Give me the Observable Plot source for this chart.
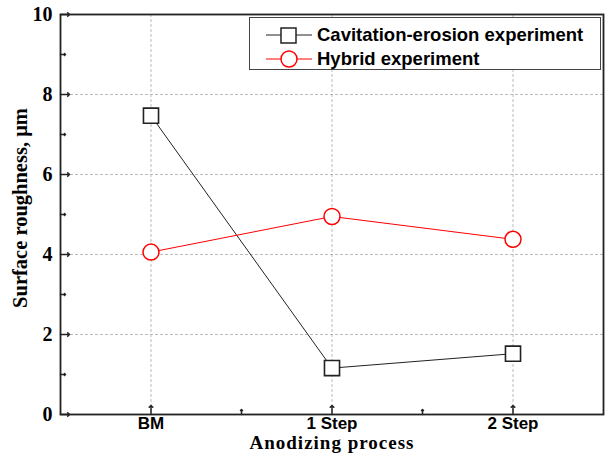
<!DOCTYPE html>
<html><head><meta charset="utf-8">
<script src="https://cdn.jsdelivr.net/npm/d3@7"></script>
<script src="https://cdn.jsdelivr.net/npm/@observablehq/plot@0.6"></script>
<style>
body{margin:0;background:#fff;}
#wrap{position:relative;width:605px;height:462px;}
#legend{position:absolute;left:249px;top:17px;width:350px;height:51px;border:1.5px solid #444;background:#fff;font-family:"Liberation Sans",Arial,sans-serif;font-weight:bold;font-size:18.5px;color:#000;}
.row{position:absolute;left:16px;height:20px;display:flex;align-items:center;}
.row svg{margin-right:5px;}
</style></head>
<body><div id="wrap"><div id="chart"></div>
<div id="legend">
<div class="row" style="top:7px"><svg width="46" height="20"><line x1="0" y1="10" x2="46" y2="10" stroke="#222" stroke-width="1"/><rect x="15" y="3" width="15" height="15" fill="#fff" stroke="#222" stroke-width="1.5"/></svg><span>Cavitation-erosion experiment</span></div>
<div class="row" style="top:31px"><svg width="46" height="20"><line x1="0" y1="10" x2="46" y2="10" stroke="#f00" stroke-width="1"/><circle cx="23" cy="10" r="8" fill="#fff" stroke="#f00" stroke-width="1.5"/></svg><span>Hybrid experiment</span></div>
</div></div>
<script>
const categories = ["BM", "1 Step", "2 Step"];
const cavitation = [7.47, 1.16, 1.52];
const hybrid = [4.06, 4.95, 4.38];
const yTicks = [0, 2, 4, 6, 8, 10];
const yMinor = [1, 3, 5, 7, 9];
const xMinor = [1.5, 2.5];

const cav = categories.map((c, i) => ({x: i + 1, y: cavitation[i]}));
const hyb = categories.map((c, i) => ({x: i + 1, y: hybrid[i]}));
const xPos = categories.map((c, i) => i + 1);

const serif = "'Liberation Serif','Times New Roman',serif";
const sans = "'Liberation Sans',Arial,sans-serif";

const chart = Plot.plot({
  width: 605, height: 462,
  marginLeft: 60, marginTop: 14, marginRight: 2, marginBottom: 48,
  style: {background: "#fff"},
  x: {domain: [0.5, 3.5], axis: null},
  y: {domain: [0, 10], axis: null},
  marks: [
    Plot.gridY(yTicks.filter(d => d > 0 && d < 10), {stroke: "#aaa", strokeOpacity: 0.8, strokeDasharray: "3,2", strokeWidth: 1}),
    Plot.gridX(xPos, {stroke: "#aaa", strokeOpacity: 0.8, strokeDasharray: "3,2", strokeWidth: 1}),
    Plot.vector(yTicks, {y: d => d, frameAnchor: "left", rotate: 90, length: 9, anchor: "start", stroke: "#222", strokeWidth: 1.5}),
    Plot.vector(yMinor, {y: d => d, frameAnchor: "left", rotate: 90, length: 5, anchor: "start", stroke: "#222", strokeWidth: 1.5}),
    Plot.vector(xPos, {x: d => d, frameAnchor: "bottom", rotate: 0, length: 9, anchor: "start", stroke: "#222", strokeWidth: 1.5}),
    Plot.vector(xMinor, {x: d => d, frameAnchor: "bottom", rotate: 0, length: 5, anchor: "start", stroke: "#222", strokeWidth: 1.5}),
    Plot.frame({stroke: "#222", strokeWidth: 1.8}),
    Plot.text(yTicks, {y: d => d, text: d => String(d), frameAnchor: "left", dx: -8, textAnchor: "end", fontFamily: serif, fontWeight: "bold", fontSize: 20, fill: "#000"}),
    Plot.text(categories, {x: (d, i) => i + 1, text: d => d, frameAnchor: "bottom", dy: 14, fontFamily: sans, fontWeight: "bold", fontSize: 17, fill: "#000"}),
    Plot.line(cav, {x: "x", y: "y", stroke: "#222", strokeWidth: 1}),
    Plot.line(hyb, {x: "x", y: "y", stroke: "#f00", strokeWidth: 1}),
    Plot.dot(cav, {x: "x", y: "y", symbol: "square", r: 8.5, fill: "#fff", stroke: "#222", strokeWidth: 1.6}),
    Plot.dot(hyb, {x: "x", y: "y", symbol: "circle", r: 8, fill: "#fff", stroke: "#f00", strokeWidth: 1.5})
  ]
});
document.getElementById("chart").appendChild(chart);

// axis titles
const svg = d3.select(chart);
svg.append("text").attr("x", 332).attr("y", 449).attr("text-anchor", "middle")
  .attr("font-family", serif).attr("font-weight", "bold").attr("font-size", 19).attr("letter-spacing", 1)
  .text("Anodizing process");
svg.append("text").attr("transform", "translate(27,208) rotate(-90)").attr("text-anchor", "middle")
  .attr("font-family", serif).attr("font-weight", "bold").attr("font-size", 20.5)
  .text("Surface roughness, μm");
</script></body></html>
